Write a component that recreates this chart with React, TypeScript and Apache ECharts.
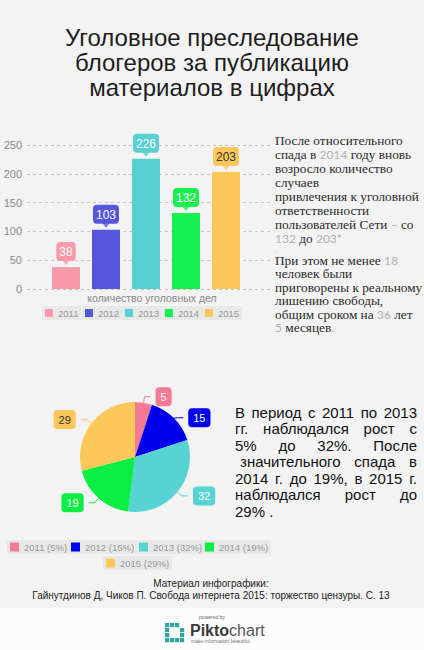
import React, { useEffect, useRef } from 'react';
import * as echarts from 'echarts';

const years = ['2011', '2012', '2013', '2014', '2015'];
const cases = [38, 103, 226, 132, 203];
const shares = [5, 15, 32, 19, 29];
const barColors = ['#f799a8', '#5457dc', '#58d0d0', '#17ef4f', '#fcc75a'];
const pieColors = ['#f27a92', '#0000ee', '#58d3d3', '#08ee45', '#fcc75a'];
const yMin = 0;
const yMax = 250;
const yStep = 50;

const titleLines = ['Уголовное преследование', 'блогеров за публикацию', 'материалов в цифрах'];
const axisName = 'количество уголовных дел';
const noteLines1 = [
  'После относительного',
  'спада в {n|2014} году вновь',
  'возросло количество',
  'случаев',
  'привлечения к уголовной',
  'ответственности',
  'пользователей Сети {n|–} со',
  '{n|132} до {n|203*}',
];
const noteLines2 = [
  'При этом не менее {n|18}',
  'человек были',
  'приговорены к реальному',
  'лишению свободы,',
  'общим сроком на {n|36} лет',
  '{n|5} месяцев{n|.}',
];
const pieNote: string[][] = [
  ['В', 'период', 'с', '2011', 'по', '2013'],
  ['гг.', 'наблюдался', 'рост', 'с'],
  ['5%', 'до', '32%.', 'После'],
  ['значительного', 'спада', 'в'],
  ['2014', 'г.', 'до', '19%,', 'в', '2015', 'г.'],
  ['наблюдался', 'рост', 'до'],
  ['29% .'],
];
const sourceLines = [
  'Материал инфографики:',
  'Гайнутдинов Д, Чиков П. Свобода интернета 2015: торжество цензуры. С. 13',
];

const SANS = '"Liberation Sans", Arial, sans-serif';
const SERIF = '"Liberation Serif", "Times New Roman", serif';

export default function App() {
  const ref = useRef<HTMLDivElement>(null);
  useEffect(() => {
    if (!ref.current) return;
    const chart = echarts.init(ref.current, undefined, { renderer: 'svg' });
    const ctx = document.createElement('canvas').getContext('2d')!;
    const pieFont = 15;
    ctx.font = `${pieFont}px "Liberation Sans"`;

    const graphics: any[] = [];
    graphics.push({ type: 'rect', shape: { x: 0, y: 608, width: 424, height: 42 }, style: { fill: '#fcfcfc' }, z: -5 });
    titleLines.forEach((t, i) => {
      graphics.push({
        type: 'text', x: 212, y: 37 + i * 25,
        style: { text: t, align: 'center', verticalAlign: 'middle', fontSize: 24, fontFamily: SANS, fill: '#1e1e1e' },
      });
    });
    graphics.push({
      type: 'text', x: 152, y: 298,
      style: { text: axisName, align: 'center', verticalAlign: 'middle', fontSize: 10.5, fontFamily: SANS, fill: '#888' },
    });
    const rich = { n: { fill: '#b0b0b0', fontFamily: 'Lato, "DejaVu Sans"', fontSize: 12, lineHeight: 12 } };
    noteLines1.forEach((t, i) => {
      graphics.push({
        type: 'text', x: 275, y: 140 + i * 14.1,
        style: { text: t, rich, verticalAlign: 'middle', fontSize: 13.3, lineHeight: 12, fontFamily: SERIF, fill: '#2a2a2a' },
      });
    });
    graphics.push({
      type: 'text', x: 275, y: 250,
      style: { text: '.', verticalAlign: 'middle', fontSize: 7, lineHeight: 6, fontFamily: SANS, fill: '#aaa' },
    });
    noteLines2.forEach((t, i) => {
      graphics.push({
        type: 'text', x: 275, y: 260 + i * 13.5,
        style: { text: t, rich, verticalAlign: 'middle', fontSize: 13.3, lineHeight: 12, fontFamily: SERIF, fill: '#2a2a2a' },
      });
    });
    // justified paragraph
    const pLeft = 235, pRight = 417;
    pieNote.forEach((words, li) => {
      const y = 412 + li * 16.5;
      const start = li === 3 ? pLeft + 5 : pLeft;
      if (words.length === 1 || li === pieNote.length - 1) {
        graphics.push({ type: 'text', x: start, y, style: { text: words.join(' '), verticalAlign: 'middle', fontSize: pieFont, fontFamily: SANS, fill: '#111' } });
        return;
      }
      const widths = words.map((w) => ctx.measureText(w).width);
      const total = widths.reduce((a, b) => a + b, 0);
      const gap = (pRight - start - total) / (words.length - 1);
      let x = start;
      words.forEach((w, wi) => {
        graphics.push({ type: 'text', x, y, style: { text: w, verticalAlign: 'middle', fontSize: pieFont, fontFamily: SANS, fill: '#111' } });
        x += widths[wi] + gap;
      });
    });
    sourceLines.forEach((t, i) => {
      graphics.push({
        type: 'text', x: 211, y: 583 + i * 12.5,
        style: { text: t, align: 'center', verticalAlign: 'middle', fontSize: 10, fontFamily: SANS, fill: '#222' },
      });
    });
    // Piktochart logo
    graphics.push({ type: 'text', x: 212, y: 617, style: { text: 'powered by', align: 'center', verticalAlign: 'middle', fontSize: 5, fontFamily: SANS, fill: '#666' } });
    for (let r = 0; r < 4; r++) {
      for (let c = 0; c < 4; c++) {
        const border = r === 0 || r === 3 || c === 0 || c === 3;
        if (!border || (r === 0 && c === 3)) continue;
        graphics.push({ type: 'rect', shape: { x: 165 + c * 5, y: 623 + r * 5, width: 4.2, height: 4.2 }, style: { fill: '#2fa59c' } });
      }
    }
    graphics.push({
      type: 'text', x: 190, y: 630,
      style: {
        text: '{a|Pikto}{b|chart}', verticalAlign: 'middle',
        rich: { a: { fontSize: 16, fontFamily: SANS, fill: '#3a3a3a', fontWeight: 'bold' }, b: { fontSize: 16, fontFamily: SANS, fill: '#555' } },
      },
    });
    graphics.push({ type: 'text', x: 191, y: 641, style: { text: 'make information beautiful', verticalAlign: 'middle', fontSize: 5, fontFamily: SANS, fill: '#777' } });

    const barSeries = years.map((y, i) => ({
      name: y,
      type: 'bar',
      xAxisIndex: 1,
      yAxisIndex: 1,
      stack: 'c',
      barWidth: 28,
      itemStyle: { color: barColors[i] },
      data: years.map((_, j) => (j === i ? cases[i] : '-')),
      label: {
        show: true, position: 'top', distance: 6,
        backgroundColor: barColors[i], borderRadius: 4, padding: [4, 3, 3, 3],
        color: i === 4 ? '#333' : '#fff', fontSize: 12, fontFamily: SANS,
      },
    }));

    const pieLegendPos = [[7, 540], [68, 540], [136, 540], [202, 540], [103, 556]];
    const pieNames = years.map((y, i) => `${y} (${shares[i]}%)`);
    const legends: any[] = [];
    years.forEach((y, i) => {
      legends.push({
        data: [y], left: 42 + i * 40, top: 306, icon: 'rect', itemWidth: 8, itemHeight: 8,
        backgroundColor: '#e8e8e8', padding: [2, 3], selectedMode: false,
        textStyle: { fontSize: 9.5, color: '#999', fontFamily: SANS },
      });
    });
    pieNames.forEach((n, i) => {
      legends.push({
        data: [n], left: pieLegendPos[i][0], top: pieLegendPos[i][1], icon: 'rect', itemWidth: 9, itemHeight: 9,
        backgroundColor: '#e8e8e8', padding: [2, 3], selectedMode: false,
        textStyle: { fontSize: 9.5, color: '#999', fontFamily: SANS },
      });
    });

    chart.setOption({
      animation: false,
      backgroundColor: '#f3f3f3',
      grid: [
        { left: 27, right: 151, top: 145, bottom: 361 },
        { left: 46, right: 178, top: 145, bottom: 361 },
      ],
      xAxis: [
        { type: 'value', gridIndex: 0, show: false, min: 0, max: 1 },
        { type: 'category', gridIndex: 1, data: years, show: false },
      ],
      yAxis: [
        {
          type: 'value', gridIndex: 0, min: yMin, max: yMax, interval: yStep,
          axisLine: { show: false }, axisTick: { show: false },
          axisLabel: { color: '#8a8a8a', fontSize: 11, margin: 5, fontFamily: SANS },
          splitLine: { lineStyle: { type: [3, 3], color: '#c4c4c4' } },
        },
        { type: 'value', gridIndex: 1, min: yMin, max: yMax, interval: yStep, show: false },
      ],
      legend: legends,
      series: [
        ...barSeries,
        {
          type: 'scatter', xAxisIndex: 1, yAxisIndex: 1, silent: true,
          symbol: 'triangle', symbolRotate: 180, symbolSize: [9, 6], symbolOffset: [0, -5], z: 3,
          data: cases.map((v, i) => ({ value: [i, v], itemStyle: { color: barColors[i] } })),
        },
        {
          type: 'pie', center: [135, 457], radius: 55, startAngle: 90, clockwise: true,
          data: shares.map((v, i) => ({
            name: pieNames[i], value: v,
            itemStyle: { color: pieColors[i] },
            label: { backgroundColor: pieColors[i], color: i === 4 ? '#333' : '#fff' },
          })),
          label: { show: true, position: 'outside', formatter: '{c}', fontSize: 11, fontFamily: SANS, padding: [4, 5], borderRadius: 4 },
          labelLine: { show: true, length: 6, length2: 6, lineStyle: { width: 1 } },
        },
      ],
      graphic: graphics,
    });
    return () => chart.dispose();
  }, []);
  return <div ref={ref} style={{ position: 'fixed', left: 0, top: 0, width: 424, height: 650 }} />;
}
